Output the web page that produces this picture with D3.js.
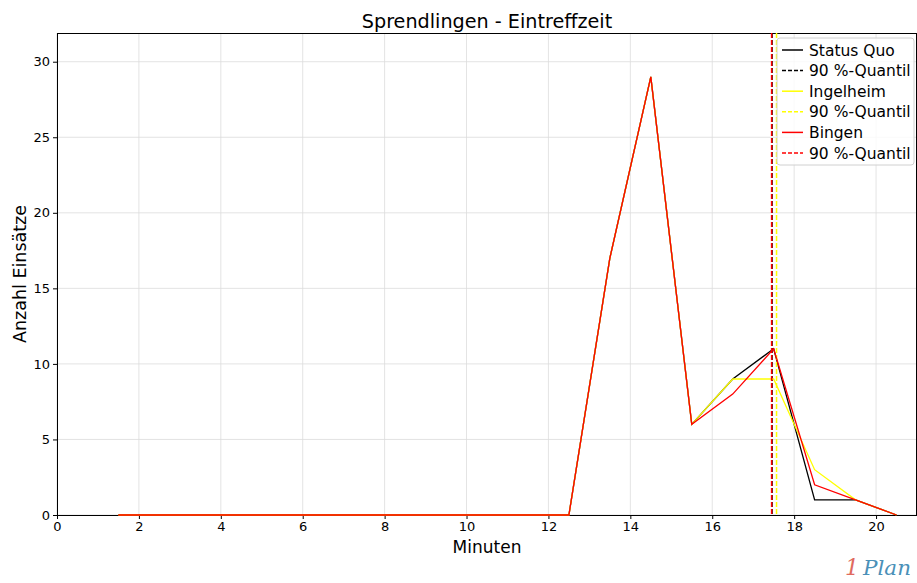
<!DOCTYPE html>
<html><head><meta charset="utf-8">
<script src="https://cdn.jsdelivr.net/npm/d3@7"></script>
<style>body{margin:0;background:#fff}svg{font-family:"DejaVu Sans",sans-serif}</style>
</head><body><svg id="c" width="917" height="583"></svg>
<script>
const minutes = [1.5,2.5,3.5,4.5,5.5,6.5,7.5,8.5,9.5,10.5,11.5,12.5,13.5,14.5,15.5,16.5,17.5,18.5,19.5,20.5];
const statusQuo = [0,0,0,0,0,0,0,0,0,0,0,0,17,29,6,9,11,1,1,0];
const ingelheim = [0,0,0,0,0,0,0,0,0,0,0,0,17,29,6,9,9,3,1,0];
const bingen    = [0,0,0,0,0,0,0,0,0,0,0,0,17,29,6,8,11,2,1,0];
const quantiles = [17.46, 17.57, 17.45];
const seriesNames = ["Status Quo","Ingelheim","Bingen"];
const colors = ["#000000","#ffff00","#ff0000"];
const xTicks = [0,2,4,6,8,10,12,14,16,18,20];
const yTicks = [0,5,10,15,20,25,30];

const svg = d3.select("#c");
const L=57,R=917,T=33,B=515;
const x = d3.scaleLinear().domain([0,21]).range([L,R]);
const y = d3.scaleLinear().domain([0,31.9]).range([B,T]);

// grid
svg.append("g").selectAll("line").data(xTicks).join("line")
  .attr("x1",d=>x(d)).attr("x2",d=>x(d)).attr("y1",T).attr("y2",B)
  .attr("stroke","#dcdcdc").attr("stroke-width",0.8);
svg.append("g").selectAll("line").data(yTicks).join("line")
  .attr("x1",L).attr("x2",R).attr("y1",d=>y(d)).attr("y2",d=>y(d))
  .attr("stroke","#dcdcdc").attr("stroke-width",0.8);

// axes
const xa = svg.append("g").attr("transform",`translate(0,${B})`)
  .call(d3.axisBottom(x).tickValues(xTicks).tickSize(4).tickPadding(3));
const ya = svg.append("g").attr("transform",`translate(${L},0)`)
  .call(d3.axisLeft(y).tickValues(yTicks).tickSize(4).tickPadding(3));
[xa,ya].forEach(a=>{a.selectAll("text").attr("font-size",13).attr("fill","#000").attr("font-family","DejaVu Sans");
  a.selectAll("line").attr("stroke","#000");a.select(".domain").attr("stroke","#000");});
xa.select(".domain").attr("d",`M${L},0.5H${R}`);
ya.select(".domain").attr("d",`M0.5,${B}V${T}`);
svg.append("line").attr("x1",L).attr("x2",R).attr("y1",T+0.5).attr("y2",T+0.5).attr("stroke","#000");
svg.append("line").attr("x1",R-0.5).attr("x2",R-0.5).attr("y1",T).attr("y2",B).attr("stroke","#000");

const data=[statusQuo,ingelheim,bingen];
const line = d3.line().x((d,i)=>x(minutes[i])).y(d=>y(d));
const plot = svg.append("g");
data.forEach((s,k)=>{
  plot.append("path").datum(s).attr("d",line).attr("fill","none")
    .attr("stroke",colors[k]).attr("stroke-width",1.3);
  plot.append("line").attr("x1",x(quantiles[k])).attr("x2",x(quantiles[k]))
    .attr("y1",T).attr("y2",B).attr("stroke",colors[k]).attr("stroke-width",1.5)
    .attr("stroke-dasharray","5,2");
});

// title and labels
svg.append("text").attr("x",(L+R)/2).attr("y",28).attr("text-anchor","middle")
  .attr("font-size",19.2).text("Sprendlingen - Eintreffzeit");
svg.append("text").attr("x",(L+R)/2).attr("y",553).attr("text-anchor","middle")
  .attr("font-size",17).text("Minuten");
svg.append("text").attr("transform",`translate(26,${(T+B)/2}) rotate(-90)`).attr("text-anchor","middle")
  .attr("font-size",17.5).text("Anzahl Einsätze");

// legend
const lg = svg.append("g");
lg.append("rect").attr("x",777).attr("y",38).attr("width",137).attr("height",127).attr("rx",3)
  .attr("fill","#fff").attr("fill-opacity",0.8).attr("stroke","#d0d0d0");
const entries=[];
seriesNames.forEach((n,k)=>{entries.push({n,c:colors[k],dash:null});entries.push({n:"90 %-Quantil",c:colors[k],dash:"4,2"});});
entries.forEach((e,i)=>{
  const yy=50+i*20.6;
  lg.append("line").attr("x1",782).attr("x2",803).attr("y1",yy).attr("y2",yy)
    .attr("stroke",e.c).attr("stroke-width",1.5).attr("stroke-dasharray",e.dash);
  lg.append("text").attr("x",809).attr("y",yy+5.5).attr("font-size",15.5).text(e.n);
});

// logo
svg.append("text").attr("x",845).attr("y",575).attr("font-size",22).attr("font-style","italic")
  .attr("font-family","DejaVu Serif").attr("fill","#e06a5e").text("1");
svg.append("text").attr("x",863).attr("y",575).attr("font-size",20).attr("font-style","italic")
  .attr("font-family","DejaVu Serif").attr("fill","#4a90b8")
  .attr("textLength",48).attr("lengthAdjust","spacingAndGlyphs").text("Plan");
</script></body></html>
